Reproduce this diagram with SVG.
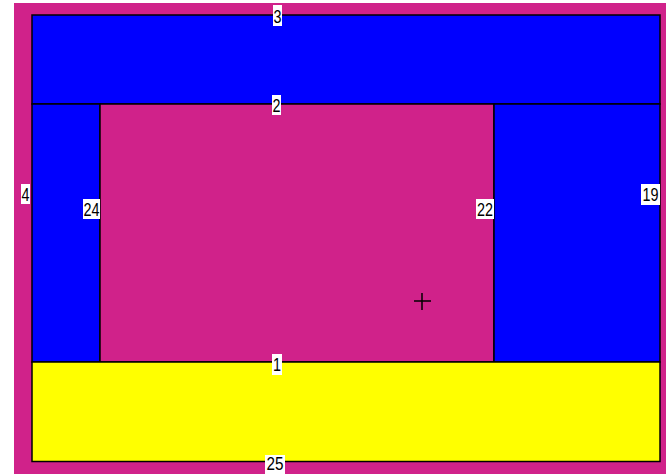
<svg xmlns="http://www.w3.org/2000/svg" width="666" height="474" viewBox="0 0 666 474">
<style>
.room{stroke:#000;stroke-width:1.5}
.blue{fill:#0000FF}
.mag{fill:#D0228A}
.yel{fill:#FFFF00}
.lb{fill:#fff}
.t{font-family:"Liberation Sans",Arial,sans-serif;font-size:19px;fill:#000;text-anchor:middle}
.cross{stroke:#000;stroke-width:1.5;fill:none}
</style>
<rect x="0" y="0" width="666" height="474" fill="#fff"/>
<rect id="background" x="14" y="3" width="652" height="471" class="mag"/>
<g id="node-3"><rect class="room blue" x="32" y="15" width="628" height="89"/></g>
<g id="node-24"><rect class="room blue" x="32" y="104" width="68" height="258"/></g>
<g id="node-2"><rect class="room mag" x="100" y="104" width="394" height="258"/></g>
<g id="node-22"><rect class="room blue" x="494" y="104" width="166" height="258"/></g>
<g id="node-1"><rect class="room yel" x="32" y="362" width="628" height="99.5"/></g>
<g id="connectors"></g>
<g id="labels">
<g id="label-3"><rect class="lb" x="273" y="5" width="9" height="21"/><text class="t" x="277.5" y="23" textLength="8" lengthAdjust="spacingAndGlyphs">3</text></g>
<g id="label-2"><rect class="lb" x="272" y="95" width="9" height="20"/><text class="t" x="276.5" y="112" textLength="8" lengthAdjust="spacingAndGlyphs">2</text></g>
<g id="label-1"><rect class="lb" x="272" y="354" width="10" height="21"/><text class="t" x="277" y="371" textLength="8" lengthAdjust="spacingAndGlyphs">1</text></g>
<g id="label-25"><rect class="lb" x="265" y="455" width="20" height="19"/><text class="t" x="275" y="470" font-size="17" textLength="17" lengthAdjust="spacingAndGlyphs">25</text></g>
<g id="label-4"><rect class="lb" x="21" y="184" width="9" height="20"/><text class="t" x="25.5" y="201" textLength="8" lengthAdjust="spacingAndGlyphs">4</text></g>
<g id="label-24"><rect class="lb" x="83" y="199" width="17" height="20"/><text class="t" x="91.5" y="216" textLength="16" lengthAdjust="spacingAndGlyphs">24</text></g>
<g id="label-22"><rect class="lb" x="476" y="199" width="18" height="20"/><text class="t" x="485" y="216" textLength="16" lengthAdjust="spacingAndGlyphs">22</text></g>
<g id="label-19"><rect class="lb" x="641" y="184" width="19" height="21"/><text class="t" x="650.5" y="201" textLength="16" lengthAdjust="spacingAndGlyphs">19</text></g>
</g>
<g id="cross"><path class="cross" d="M414 301H431M422 293V310"/></g>
</svg>
